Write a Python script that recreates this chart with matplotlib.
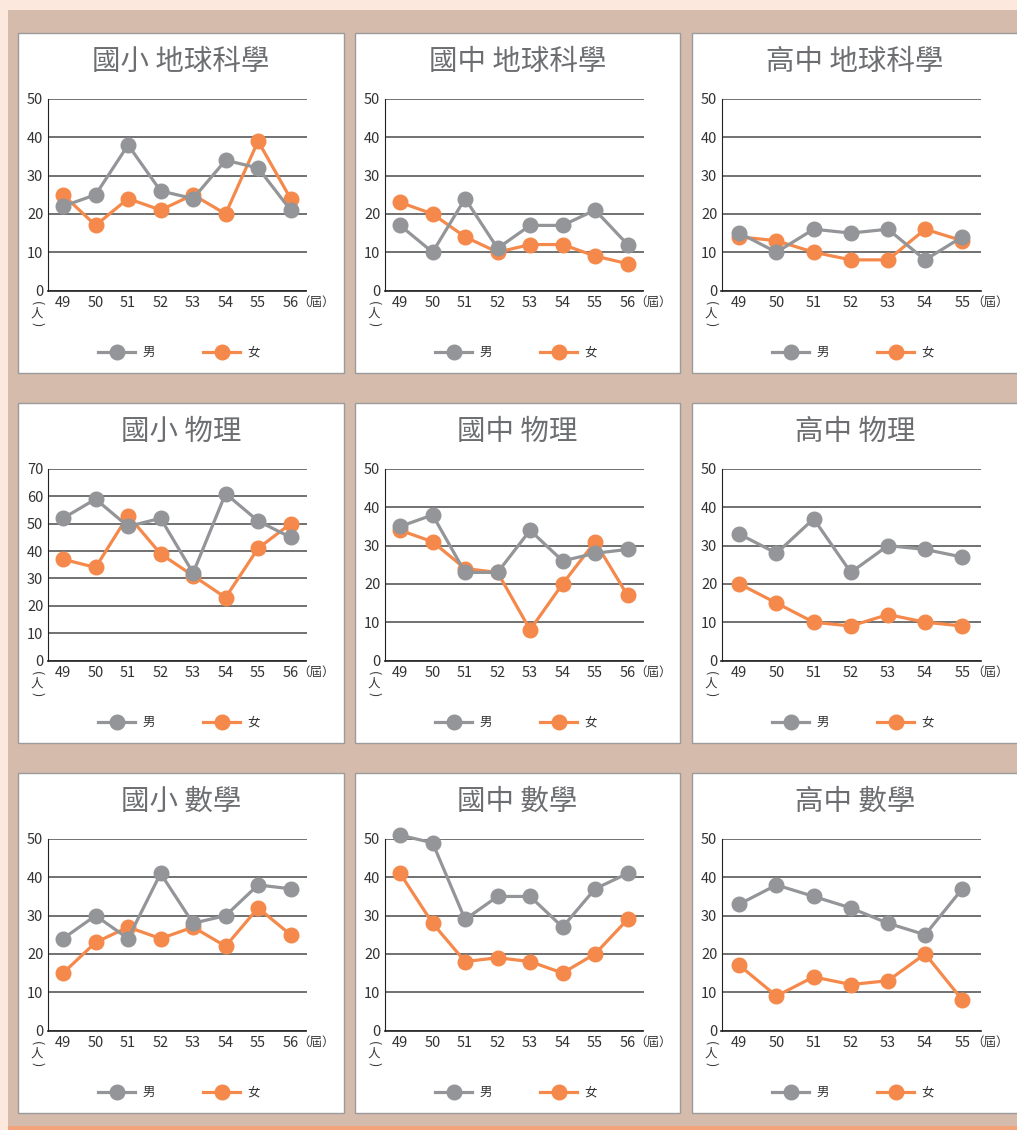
import matplotlib.pyplot as plt
from matplotlib.patches import Rectangle

plt.rcParams['font.family'] = ['Noto Sans CJK TC', 'DejaVu Sans']

# ---- data (人數 by 屆) ----
years_8 = [49, 50, 51, 52, 53, 54, 55, 56]
years_7 = [49, 50, 51, 52, 53, 54, 55]

elem_earth_m = [22, 25, 38, 26, 24, 34, 32, 21]
elem_earth_f = [25, 17, 24, 21, 25, 20, 39, 24]
jh_earth_m = [17, 10, 24, 11, 17, 17, 21, 12]
jh_earth_f = [23, 20, 14, 10, 12, 12, 9, 7]
sh_earth_m = [15, 10, 16, 15, 16, 8, 14]
sh_earth_f = [14, 13, 10, 8, 8, 16, 13]

elem_phys_m = [52, 59, 49, 52, 32, 61, 51, 45]
elem_phys_f = [37, 34, 53, 39, 31, 23, 41, 50]
jh_phys_m = [35, 38, 23, 23, 34, 26, 28, 29]
jh_phys_f = [34, 31, 24, 23, 8, 20, 31, 17]
sh_phys_m = [33, 28, 37, 23, 30, 29, 27]
sh_phys_f = [20, 15, 10, 9, 12, 10, 9]

elem_math_m = [24, 30, 24, 41, 28, 30, 38, 37]
elem_math_f = [15, 23, 27, 24, 27, 22, 32, 25]
jh_math_m = [51, 49, 29, 35, 35, 27, 37, 41]
jh_math_f = [41, 28, 18, 19, 18, 15, 20, 29]
sh_math_m = [33, 38, 35, 32, 28, 25, 37]
sh_math_f = [17, 9, 14, 12, 13, 20, 8]

titles = ['國小 地球科學', '國中 地球科學', '高中 地球科學',
          '國小 物理', '國中 物理', '高中 物理',
          '國小 數學', '國中 數學', '高中 數學']
y_tops = [50, 50, 50, 70, 50, 50, 50, 50, 50]

panels = [
    (years_8, elem_earth_m, elem_earth_f), (years_8, jh_earth_m, jh_earth_f), (years_7, sh_earth_m, sh_earth_f),
    (years_8, elem_phys_m, elem_phys_f), (years_8, jh_phys_m, jh_phys_f), (years_7, sh_phys_m, sh_phys_f),
    (years_8, elem_math_m, elem_math_f), (years_8, jh_math_m, jh_math_f), (years_7, sh_math_m, sh_math_f),
]

GRAY = '#939598'
ORANGE = '#f5894b'
TITLE_C = '#6d6e71'
TEXT_C = '#333333'

W, H = 1017, 1130
fig = plt.figure(figsize=(W / 100, H / 100), dpi=100)
fig.patch.set_facecolor('#fce8dc')


def fx(x):
    return x / W


def fy(y):
    return 1 - y / H


# tan backdrop + thin orange line at the bottom
fig.patches.append(Rectangle((fx(8), fy(1126)), 1, fy(10) - fy(1126),
                             transform=fig.transFigure, facecolor='#d5bbab',
                             edgecolor='none', zorder=0))
fig.patches.append(Rectangle((fx(8), fy(1130)), 1, fy(1126) - fy(1130),
                             transform=fig.transFigure, facecolor='#f4a47a',
                             edgecolor='none', zorder=0))

col_left = [18, 355, 692]
col_width = [326, 325, 326]
row_top = [33, 403, 773]
panel_h = 340

for i, (years, male, female) in enumerate(panels):
    r, c = divmod(i, 3)
    pl, pt, pw = col_left[c], row_top[r], col_width[c]

    fig.patches.append(Rectangle((fx(pl), fy(pt + panel_h)), pw / W, panel_h / H,
                                 transform=fig.transFigure, facecolor='white',
                                 edgecolor='#9b9b9b', linewidth=1.0, zorder=0.5))
    fig.text(fx(pl + pw / 2), fy(pt + 29), titles[i], ha='center', va='center',
             fontsize=20.5, color=TITLE_C)

    ax_l, ax_t = pl + 29.5, pt + 66
    ax_w, ax_h = 259, 191.5
    ax = fig.add_axes([fx(ax_l), fy(ax_t + ax_h), ax_w / W, ax_h / H])
    ax.set_zorder(2)
    ax.set_facecolor('none')

    ymax = y_tops[i]
    ax.set_ylim(0, ymax)
    ax.set_xlim(years[0] - 0.48, years[-1] + 0.49)
    ax.set_yticks(range(0, ymax + 1, 10))
    ax.set_xticks(years)
    ax.tick_params(length=0, labelsize=10.5, labelcolor=TEXT_C, pad=3)
    ax.tick_params(axis='x', pad=4)
    ax.yaxis.grid(True, color='#4a4a4a', linewidth=1.1)
    ax.set_axisbelow(True)
    for s in ['top', 'right']:
        ax.spines[s].set_visible(False)
    ax.spines['left'].set_color('#222222')
    ax.spines['bottom'].set_color('#222222')
    ax.spines['bottom'].set_linewidth(1.2)

    ax.plot(years, female, color=ORANGE, lw=2.3, marker='o', ms=10.5,
            clip_on=False, zorder=3, label='女')
    ax.plot(years, male, color=GRAY, lw=2.3, marker='o', ms=10.5,
            clip_on=False, zorder=4, label='男')

    # unit labels: (屆) after the last tick, vertical (人) under the y axis
    ax.text(1.035, -0.063, '（屆）', transform=ax.transAxes, ha='center', va='center',
            fontsize=9, color=TEXT_C)
    ux = -10.5 / ax_w
    ax.text(ux, -13 / ax_h, '(', transform=ax.transAxes, ha='center', va='center',
            rotation=-90, fontsize=9, color=TEXT_C)
    ax.text(ux, -24 / ax_h, '人', transform=ax.transAxes, ha='center', va='center',
            fontsize=9, color=TEXT_C)
    ax.text(ux, -34 / ax_h, ')', transform=ax.transAxes, ha='center', va='center',
            rotation=-90, fontsize=9, color=TEXT_C)

    h, l = ax.get_legend_handles_labels()
    ax.legend(h[::-1], l[::-1], loc='center', bbox_to_anchor=(0.508, -0.325), ncol=2,
              frameon=False, fontsize=9, handlelength=2.9, handletextpad=0.6,
              columnspacing=3.9, labelcolor=TEXT_C)

fig.savefig('out.png', dpi=100, facecolor=fig.get_facecolor())
